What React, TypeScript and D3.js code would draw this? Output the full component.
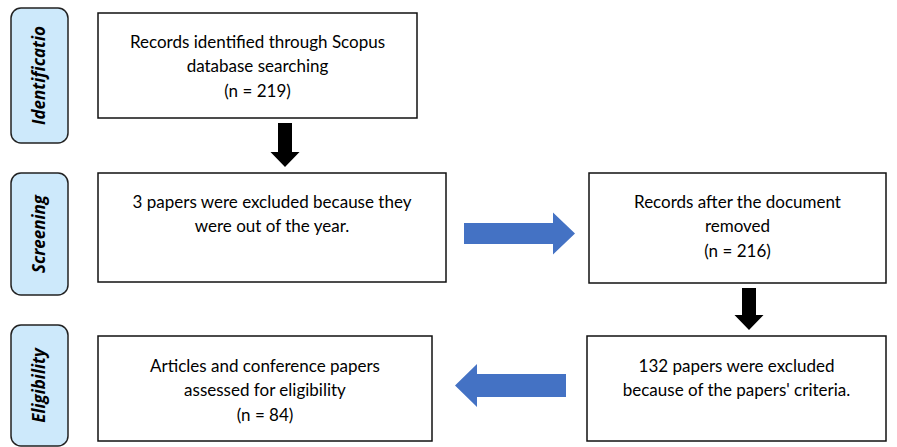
import * as d3 from "d3";
import { useEffect, useRef } from "react";

const stages = ["Identificatio", "Screening", "Eligibility"];

const records = [
  ["Records identified through Scopus", "database searching", "(n = 219)"],
  ["3 papers were excluded because they", "were out of the year."],
  ["Records after the document", "removed", "(n = 216)"],
  ["132 papers were excluded", "because of the papers' criteria."],
  ["Articles and conference papers", "assessed for eligibility", "(n = 84)"],
];

// from box index -> to box index, and style
const links = [
  { from: 0, to: 1, kind: "down" },
  { from: 1, to: 2, kind: "right" },
  { from: 2, to: 3, kind: "down" },
  { from: 3, to: 4, kind: "left" },
];

const W = 897;
const H = 447;

const App = () => {
  const ref = useRef<SVGSVGElement>(null);

  useEffect(() => {
    const svg = d3.select(ref.current);
    svg.selectAll("*").remove();

    // layout
    const stageBox = [
      { x: 11, y: 8, w: 57, h: 135 },
      { x: 11, y: 173, w: 57, h: 122 },
      { x: 11, y: 325, w: 57, h: 121 },
    ];
    const boxes = [
      { x: 98, y: 13, w: 319, h: 105 },
      { x: 98, y: 173, w: 348, h: 109 },
      { x: 589, y: 173, w: 297, h: 110 },
      { x: 587, y: 336, w: 299, h: 105 },
      { x: 98, y: 336, w: 334, h: 105 },
    ];
    const textTop = [42, 202, 202, 366, 366];

    const font = "Lato, 'Open Sans', sans-serif";

    svg
      .selectAll("rect.stage")
      .data(stages)
      .join("rect")
      .attr("class", "stage")
      .attr("x", (_, i) => stageBox[i].x)
      .attr("y", (_, i) => stageBox[i].y)
      .attr("width", (_, i) => stageBox[i].w)
      .attr("height", (_, i) => stageBox[i].h)
      .attr("rx", 10)
      .attr("fill", "#cde9fb")
      .attr("stroke", "#222")
      .attr("stroke-width", 1.5);

    svg
      .selectAll("text.stage")
      .data(stages)
      .join("text")
      .attr("class", "stage")
      .attr(
        "transform",
        (_, i) =>
          `translate(${stageBox[i].x + stageBox[i].w / 2},${stageBox[i].y + stageBox[i].h / 2}) rotate(-90)`
      )
      .attr("text-anchor", "middle")
      .attr("dy", "0.35em")
      .attr("font-family", "'Open Sans', sans-serif")
      .attr("font-size", 17)
      .attr("font-weight", "bold")
      .attr("font-style", "italic")
      .attr("fill", "#000")
      .text((d) => d);

    const g = svg
      .selectAll("g.box")
      .data(records)
      .join("g")
      .attr("class", "box");

    g.append("rect")
      .attr("x", (_, i) => boxes[i].x)
      .attr("y", (_, i) => boxes[i].y)
      .attr("width", (_, i) => boxes[i].w)
      .attr("height", (_, i) => boxes[i].h)
      .attr("fill", "#fff")
      .attr("stroke", "#111")
      .attr("stroke-width", 1.5);

    g.each(function (lines, i) {
      const t = d3
        .select(this)
        .append("text")
        .attr("text-anchor", "middle")
        .attr("font-family", font)
        .attr("font-size", 17)
        .attr("fill", "#000");
      lines.forEach((l, j) => {
        t.append("tspan")
          .attr("x", boxes[i].x + boxes[i].w / 2)
          .attr("y", textTop[i] + j * 24.5)
          .attr("dy", "0.35em")
          .text(l);
      });
    });

    // arrows
    const arrowPath = (
      x0: number,
      y0: number,
      x1: number,
      y1: number,
      shaft: number,
      head: number,
      headLen: number
    ) => {
      const len = Math.hypot(x1 - x0, y1 - y0);
      const a = (Math.atan2(y1 - y0, x1 - x0) * 180) / Math.PI;
      const s = shaft / 2;
      const hh = head / 2;
      const b = len - headLen;
      const pts: [number, number][] = [
        [0, -s],
        [b, -s],
        [b, -hh],
        [len, 0],
        [b, hh],
        [b, s],
        [0, s],
      ];
      return {
        d: d3.line()(pts) + "Z",
        transform: `translate(${x0},${y0}) rotate(${a})`,
      };
    };

    const arrowGeom = links.map((l) => {
      const a = boxes[l.from];
      const b = boxes[l.to];
      if (l.kind === "down") {
        const cx = l.from === 0 ? 285 : 749;
        return { ...arrowPath(cx, a.y + a.h + 5, cx, b.y - 6, 14, 29, 15), fill: "#000" };
      }
      if (l.kind === "right") {
        const cy = 233.5;
        return { ...arrowPath(a.x + a.w + 18, cy, b.x - 14, cy, 21, 42, 22), fill: "#4472c4" };
      }
      const cy = 385.5;
      return { ...arrowPath(a.x - 21, cy, b.x + b.w + 23, cy, 23, 43, 22), fill: "#4472c4" };
    });

    svg
      .selectAll("path.arrow")
      .data(arrowGeom)
      .join("path")
      .attr("class", "arrow")
      .attr("d", (d) => d.d)
      .attr("transform", (d) => d.transform)
      .attr("fill", (d) => d.fill);
  }, []);

  return (
    <svg
      ref={ref}
      width={W}
      height={H}
      style={{ position: "absolute", left: 0, top: 0, background: "#fff" }}
    />
  );
};

export default App;
